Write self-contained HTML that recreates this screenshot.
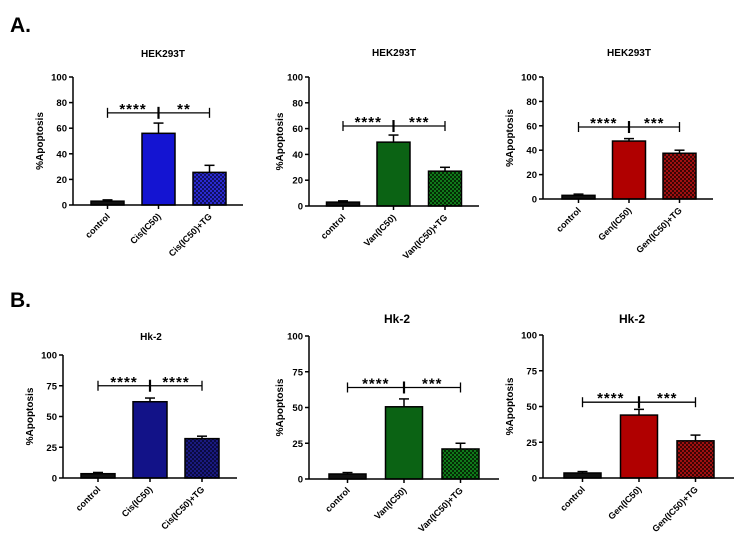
<!DOCTYPE html>
<html><head><meta charset="utf-8"><style>
body{margin:0;background:#fff;}
svg{display:block;font-family:"Liberation Sans",Arial,sans-serif;}
</style></head><body>
<svg id="fig" width="750" height="551" viewBox="0 0 750 551">
<defs>
<pattern id="chkBlue" width="4" height="4" patternUnits="userSpaceOnUse"><rect width="4" height="4" fill="#101060"/><rect width="2" height="2" fill="#2a2ad0"/><rect x="2" y="2" width="2" height="2" fill="#2a2ad0"/></pattern>
<pattern id="chkNavy" width="4" height="4" patternUnits="userSpaceOnUse"><rect width="4" height="4" fill="#0a0a40"/><rect width="2" height="2" fill="#1a1a80"/><rect x="2" y="2" width="2" height="2" fill="#1a1a80"/></pattern>
<pattern id="chkGreen" width="4" height="4" patternUnits="userSpaceOnUse"><rect width="4" height="4" fill="#052a05"/><rect width="2" height="2" fill="#0f7a1a"/><rect x="2" y="2" width="2" height="2" fill="#0f7a1a"/></pattern>
<pattern id="chkRed" width="4" height="4" patternUnits="userSpaceOnUse"><rect width="4" height="4" fill="#3a0505"/><rect width="2" height="2" fill="#a01010"/><rect x="2" y="2" width="2" height="2" fill="#a01010"/></pattern>
</defs>
<text x="10" y="32" font-size="21" font-weight="bold">A.</text>
<text x="10" y="307" font-size="21" font-weight="bold">B.</text>
</svg>
<script>
const titles = ["HEK293T","HEK293T","HEK293T","Hk-2","Hk-2","Hk-2"];
const catsCis = ["control","Cis(IC50)","Cis(IC50)+TG"];
const catsVan = ["control","Van(IC50)","Van(IC50)+TG"];
const catsGen = ["control","Gen(IC50)","Gen(IC50)+TG"];
const valsA1 = [3, 56, 25.5];
const errsA1 = [4, 64, 31];
const valsA2 = [3, 49.5, 27];
const errsA2 = [4, 55, 30];
const valsA3 = [3, 47.5, 37.5];
const errsA3 = [4, 49.5, 40];
const valsB1 = [3.5, 62, 32];
const errsB1 = [4.5, 65, 34];
const valsB2 = [3.5, 50.5, 21];
const errsB2 = [4.5, 56, 25];
const valsB3 = [3.5, 44, 26];
const errsB3 = [4.5, 48, 30];
const ticksA = [0,20,40,60,80,100];
const ticksB = [0,25,50,75,100];
const sigLeft = ["****","****","****","****","****","****"];
const sigRight = ["**","***","***","****","***","***"];
const bracketVals = [72, 62, 59, 75, 64, 53];

const panels = [
 {x0:73,x1:243,y0:205,y1:77,c:[107.5,158.5,209.5],bw:33,cats:catsCis,v:valsA1,e:errsA1,t:ticksA,fill:["#111","#1414d2","url(#chkBlue)"],tx:163,ty:57,fs:10,lx:43},
 {x0:309,x1:479,y0:206,y1:77,c:[343,393.5,445],bw:33,cats:catsVan,v:valsA2,e:errsA2,t:ticksA,fill:["#111","#0b6314","url(#chkGreen)"],tx:394,ty:56,fs:10,lx:283},
 {x0:543,x1:713,y0:199,y1:77,c:[578.5,629,679.5],bw:33,cats:catsGen,v:valsA3,e:errsA3,t:ticksA,fill:["#111","#b00000","url(#chkRed)"],tx:629,ty:56,fs:10,lx:513},
 {x0:63,x1:237,y0:478,y1:355,c:[98,150,202],bw:34,cats:catsCis,v:valsB1,e:errsB1,t:ticksB,fill:["#111","#121288","url(#chkNavy)"],tx:151,ty:340,fs:10,lx:33},
 {x0:309,x1:499,y0:479,y1:336,c:[347.5,404,460.5],bw:37,cats:catsVan,v:valsB2,e:errsB2,t:ticksB,fill:["#111","#0b6314","url(#chkGreen)"],tx:397,ty:323,fs:12,lx:283},
 {x0:543,x1:734,y0:478,y1:335,c:[582.5,639,695.5],bw:37,cats:catsGen,v:valsB3,e:errsB3,t:ticksB,fill:["#111","#b00000","url(#chkRed)"],tx:632,ty:323,fs:12,lx:513}
];
const svg = document.getElementById('fig');
const NS = 'http://www.w3.org/2000/svg';
function mk(tag, attrs, parent){const el=document.createElementNS(NS,tag);for(const k in attrs)el.setAttribute(k,attrs[k]);(parent||svg).appendChild(el);return el;}
panels.forEach((p,i)=>{
  const g = mk('g',{});
  
  
  const ys = v => p.y0 + (p.y1-p.y0)*v/100;
  const title = mk('text',{x:p.tx,y:p.ty,'text-anchor':'middle','font-size':p.fs,'font-weight':'bold'},g);
  title.textContent = titles[i];
  
  
  const yl = mk('text',{x:p.lx,y:(p.y0+p.y1)/2,'text-anchor':'middle','font-size':10,'font-weight':'bold',transform:`rotate(-90 ${p.lx} ${(p.y0+p.y1)/2})`},g);
  yl.textContent = '%Apoptosis';
  
  
  p.t.forEach(t=>{
    const y=ys(t);
    mk('line',{x1:p.x0-4,x2:p.x0,y1:y,y2:y,stroke:'#000','stroke-width':1.5},g);
    const tl = mk('text',{x:p.x0-6,y:y+3.5,'text-anchor':'end','font-size':9.5,'font-weight':'bold'},g);
    tl.textContent = t;
    
    
  });
  p.v.forEach((v,j)=>{
    const cx=p.c[j], top=ys(v), et=ys(p.e[j]);
    mk('line',{x1:cx,x2:cx,y1:top,y2:et,stroke:'#000','stroke-width':1.5},g);
    mk('line',{x1:cx-5,x2:cx+5,y1:et,y2:et,stroke:'#000','stroke-width':1.5},g);
    const b = mk('rect',{x:cx-p.bw/2,y:top,width:p.bw,height:p.y0-top,fill:p.fill[j],stroke:'#000','stroke-width':1.5},g);
    
    
    mk('line',{x1:cx,x2:cx,y1:p.y0,y2:p.y0+4,stroke:'#000','stroke-width':1.5},g);
    const xl = mk('text',{x:cx+3,y:p.y0+12,'text-anchor':'end','font-size':9,'font-weight':'bold',transform:`rotate(-45 ${cx+3} ${p.y0+12})`},g);
    xl.textContent = p.cats[j];
    
    
  });
  mk('line',{x1:p.x0,x2:p.x0,y1:p.y1,y2:p.y0,stroke:'#000','stroke-width':1.5},g);
  mk('line',{x1:p.x0,x2:p.x1,y1:p.y0,y2:p.y0,stroke:'#000','stroke-width':1.5},g);
  const by = ys(bracketVals[i]);
  const br = mk('g',{},g);
  
  
  mk('line',{x1:p.c[0],x2:p.c[2],y1:by,y2:by,stroke:'#000','stroke-width':1.3},br);
  [0,2].forEach(k=>mk('line',{x1:p.c[k],x2:p.c[k],y1:by-5,y2:by+5,stroke:'#000','stroke-width':1.3},br));
  mk('line',{x1:p.c[1],x2:p.c[1],y1:by-6,y2:by+6,stroke:'#000','stroke-width':2.2},br);
  const s1 = mk('text',{x:(p.c[0]+p.c[1])/2,y:by+1,'text-anchor':'middle','font-size':15,'font-weight':'bold','letter-spacing':1},br);
  s1.textContent = sigLeft[i];
  const s2 = mk('text',{x:(p.c[1]+p.c[2])/2,y:by+1,'text-anchor':'middle','font-size':15,'font-weight':'bold','letter-spacing':1},br);
  s2.textContent = sigRight[i];
});
</script>
</body></html>
